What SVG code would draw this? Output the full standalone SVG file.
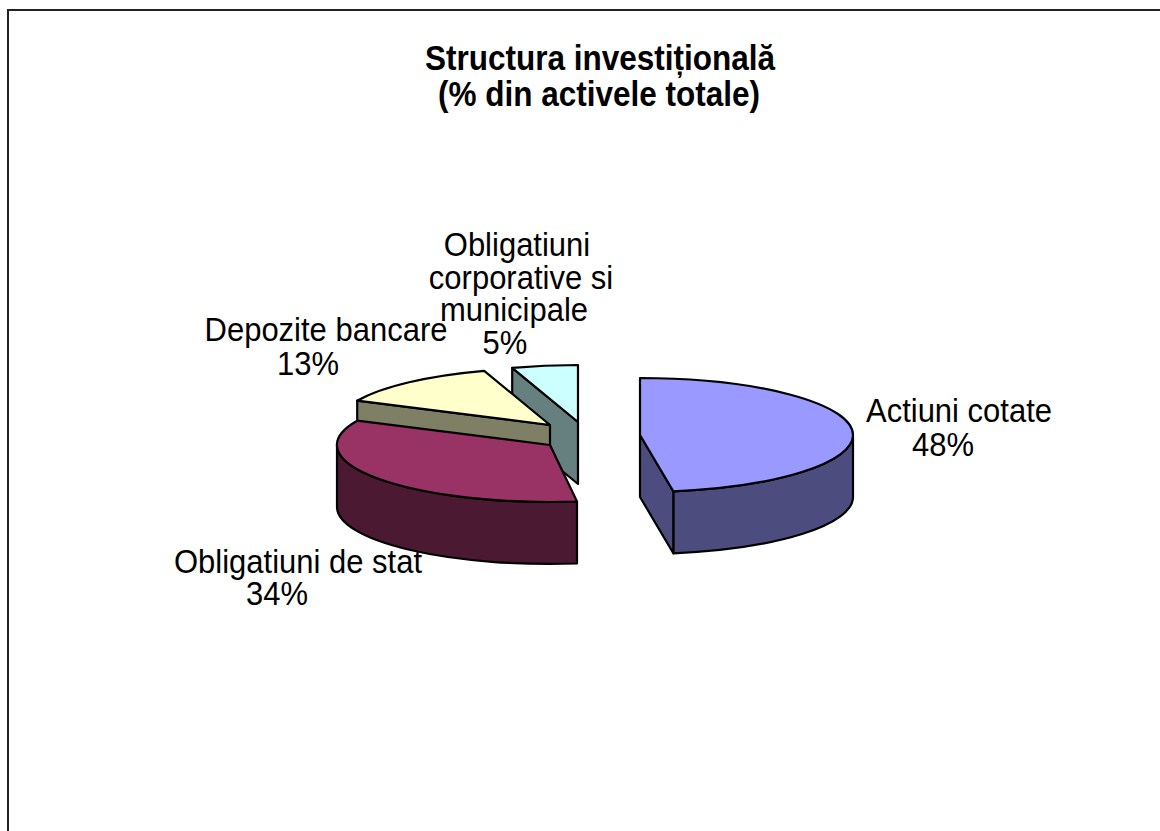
<svg xmlns="http://www.w3.org/2000/svg" width="1160" height="831" viewBox="0 0 1160 831">
<style>
  .lbl { font-family: "Liberation Sans", Arial, sans-serif; font-size: 31px; fill: #000; text-anchor: middle; }
  .ttl { font-family: "Liberation Sans", Arial, sans-serif; font-size: 31.5px; font-weight: bold; fill: #000; text-anchor: middle; }
  .edge { stroke: #000; stroke-width: 2.2; stroke-linejoin: round; }
</style>
<rect x="0" y="0" width="1160" height="831" fill="#fff"/>
<rect x="8" y="10" width="1160" height="830" fill="none" stroke="#222" stroke-width="2"/>
<g id="title">
  <text class="ttl" transform="translate(600,70) scale(1,1.1)">Structura investițională</text>
  <text class="ttl" transform="translate(599,106) scale(1,1.1)">(% din activele totale)</text>
</g>
<g id="slice-corporative">
  <path class="edge" fill="#667F7F" d="M512.2,367.8 L578,422 L578,484 L512.2,429.8 Z"/>
  <path class="edge" fill="#CCFFFF" d="M578,422 L512.2,367.8 A213,57 0 0 1 578,365 Z"/>
</g>
<g id="slice-depozite">
  <path class="edge" fill="#7F7F66" d="M357.2,400.7 L550,425 L550,487 L357.2,462.7 Z"/>
  <path class="edge" fill="#FFFFCC" d="M550,425 L357.2,400.7 A213,57 0 0 1 484.2,370.8 Z"/>
</g>
<g id="slice-stat">
  <path class="edge" fill="#4C1933" d="M337,445 A213,57 0 0 0 577,501.5 L577,563.5 A213,57 0 0 1 337,507 Z"/>
  <path class="edge" fill="#993366" d="M550,445 L357.2,420.7 A213,57 0 0 0 577,501.5 Z"/>
</g>
<g id="slice-actiuni">
  <path class="edge" fill="#4C4C7F" d="M853,435 A213,57 0 0 1 673.3,491.3 L673.3,553.3 A213,57 0 0 0 853,497 Z"/>
  <path class="edge" fill="#4C4C7F" d="M640,435 L673.3,491.3 L673.3,553.3 L640,497 Z"/>
  <path class="edge" fill="#9999FF" d="M640,435 L640,378 A213,57 0 0 1 853,435 A213,57 0 0 1 673.3,491.3 Z"/>
</g>
<g id="label-actiuni">
  <text class="lbl" transform="translate(959,422) scale(1,1.1)">Actiuni cotate</text>
  <text class="lbl" transform="translate(943,456) scale(1,1.1)">48%</text>
</g>
<g id="label-stat">
  <text class="lbl" transform="translate(298,573) scale(1,1.1)">Obligatiuni de stat</text>
  <text class="lbl" transform="translate(277,605) scale(1,1.1)">34%</text>
</g>
<g id="label-depozite">
  <text class="lbl" transform="translate(326,341) scale(1,1.1)">Depozite bancare</text>
  <text class="lbl" transform="translate(308,375) scale(1,1.1)">13%</text>
</g>
<g id="label-corporative">
  <text class="lbl" transform="translate(517,256) scale(1,1.1)">Obligatiuni</text>
  <text class="lbl" transform="translate(521,289) scale(1,1.1)">corporative si</text>
  <text class="lbl" transform="translate(514,321) scale(1,1.1)">municipale</text>
  <text class="lbl" transform="translate(505,354) scale(1,1.1)">5%</text>
</g>
<g id="connectors"></g>
</svg>
